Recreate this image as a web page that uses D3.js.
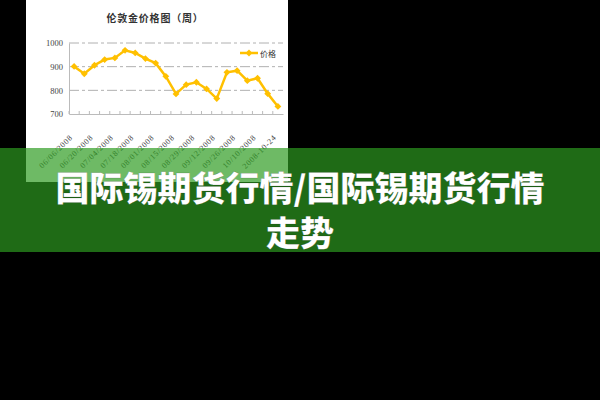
<!DOCTYPE html>
<html><head><meta charset="utf-8">
<script src="https://cdn.jsdelivr.net/npm/d3@7"></script>
<style>html,body{margin:0;padding:0;background:#000;}svg{display:block;}</style>
</head><body>
<script>
const categories = ["06/06/2008","06/13/2008","06/20/2008","06/27/2008","07/04/2008","07/11/2008","07/18/2008","07/25/2008","08/01/2008","08/08/2008","08/15/2008","08/22/2008","08/29/2008","09/05/2008","09/12/2008","09/19/2008","09/26/2008","10/03/2008","10/10/2008","10/17/2008","2008-10-24"];
const prices = [901,870,906,930,937,969,958,934,915,859,785,824,834,806,765,876,883,841,851,786,732];
const yTicks = [700,800,900,1000];
const seriesName = "价格";
const chartTitle = "伦敦金价格图（周）";
const bannerLines = ["国际锡期货行情/国际锡期货行情","走势"];

const W=600,H=400;
const svg=d3.select("body").append("svg").attr("width",W).attr("height",H);
svg.append("rect").attr("width",W).attr("height",H).attr("fill","#000");
svg.append("rect").attr("x",26).attr("y",0).attr("width",262).attr("height",182).attr("fill","#fff");

const x=d3.scaleBand().domain(categories).range([69,283]);
const y=d3.scaleLinear().domain([700,1000]).range([114,43]);

svg.append("text").attr("x",155).attr("y",17).attr("text-anchor","middle").attr("dominant-baseline","central")
  .attr("font-family","'Noto Sans CJK SC'").attr("font-size",10).attr("font-weight","bold").attr("letter-spacing",0.8)
  .attr("fill","#333").text(chartTitle);

// gridlines
svg.append("g").selectAll("line").data(yTicks.filter(t=>t>700)).join("line")
  .attr("x1",69).attr("x2",283).attr("y1",d=>y(d)).attr("y2",d=>y(d))
  .attr("stroke","#b0b0b0").attr("stroke-width",1).attr("stroke-dasharray","10,3,3,3");

// y axis
const ya=svg.append("g").attr("transform","translate(69,0)").call(d3.axisLeft(y).tickValues(yTicks).tickFormat(d3.format("d")).tickSize(0).tickPadding(6));
ya.select(".domain").attr("stroke","#bbb");
ya.selectAll("text").attr("font-family","'Liberation Serif'").attr("font-size",8.5).attr("fill","#444");

// x axis
const xa=svg.append("g").attr("transform","translate(0,114)").call(d3.axisBottom(x).tickSize(0).tickFormat(""));
xa.select(".domain").attr("stroke","#bbb");
svg.append("g").selectAll("line").data(categories).join("line")
  .attr("x1",d=>x(d)).attr("x2",d=>x(d)).attr("y1",111).attr("y2",114).attr("stroke","#bbb");
svg.append("g").selectAll("text").data(categories.filter((d,i)=>i%2===0)).join("text")
  .attr("transform",d=>`translate(${x(d)+x.bandwidth()/2-1},138) rotate(-45)`)
  .attr("text-anchor","end").attr("font-family","'Liberation Serif'").attr("font-size",8).attr("letter-spacing",0.7)
  .attr("fill","#444").text(d=>d);

// line
const gold="#FFC000";
const line=d3.line().x((d,i)=>x(categories[i])+x.bandwidth()/2).y(d=>y(d));
svg.append("path").datum(prices).attr("d",line).attr("fill","none").attr("stroke",gold).attr("stroke-width",2.5);
const diamond=d3.symbol().type(d3.symbolDiamond2).size(30);
svg.append("g").selectAll("path").data(prices).join("path")
  .attr("transform",(d,i)=>`translate(${x(categories[i])+x.bandwidth()/2},${y(d)})`)
  .attr("d",diamond).attr("fill",gold);

// legend
svg.append("line").attr("x1",240).attr("x2",258).attr("y1",53).attr("y2",53).attr("stroke",gold).attr("stroke-width",2.5);
svg.append("path").attr("transform","translate(249,53)").attr("d",diamond).attr("fill",gold);
svg.append("text").attr("x",260).attr("y",53).attr("dominant-baseline","central")
  .attr("font-family","'Noto Sans CJK SC'").attr("font-size",8).attr("fill","#333").text(seriesName);

// banner
svg.append("rect").attr("x",0).attr("y",148).attr("width",W).attr("height",104).attr("fill","rgb(45,155,32)").attr("fill-opacity",0.69);
svg.append("g").selectAll("text").data(bannerLines).join("text")
  .attr("x",300).attr("y",(d,i)=>186+i*45).attr("text-anchor","middle").attr("dominant-baseline","central")
  .attr("font-family","'Noto Sans CJK SC'").attr("font-size",34).attr("font-weight",900)
  .attr("fill","#fff").attr("stroke","rgba(0,0,0,0.25)").attr("stroke-width",0.5).text(d=>d);
</script>
</body></html>
